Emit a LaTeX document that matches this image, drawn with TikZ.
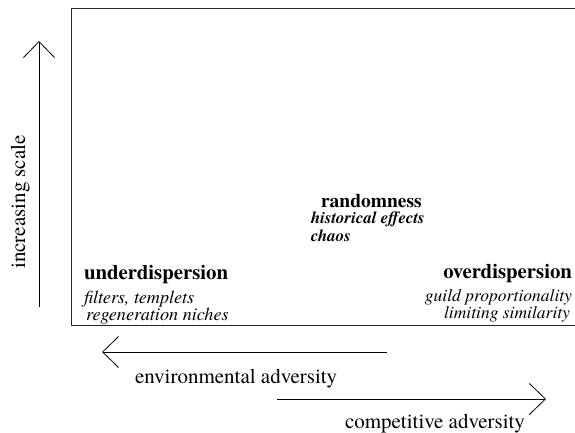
\documentclass[tikz,border=0pt]{standalone}
\usepackage{fontspec}
\setmainfont{texgyretermes}[
  Extension=.otf,
  UprightFont=*-regular,
  BoldFont=*-bold,
  ItalicFont=*-italic,
  BoldItalicFont=*-bolditalic]
\usetikzlibrary{arrows.meta}
\tikzset{
  frameline/.style={draw=black!85, line width=0.9pt},
  axisarrow/.style={draw=black, line width=0.8pt, -{Straight Barb[length=16pt,width=31pt,line width=0.8pt]}},
  lbl/.style={inner sep=0pt, outer sep=0pt, font=\fontsize{21}{25}\selectfont},
  headb/.style={inner sep=0pt, outer sep=0pt, font=\fontsize{20.8}{24}\selectfont\bfseries},
  subi/.style={inner sep=0pt, outer sep=0pt, font=\fontsize{17.5}{20}\selectfont\itshape},
  subil/.style={inner sep=0pt, outer sep=0pt, font=\fontsize{18.2}{20}\selectfont\itshape},
  midb/.style={inner sep=0pt, outer sep=0pt, font=\fontsize{19.5}{23}\selectfont\bfseries},
  midbi/.style={inner sep=0pt, outer sep=0pt, font=\fontsize{16.8}{20}\selectfont\bfseries\itshape},
}
\begin{document}
\begin{tikzpicture}[x=1pt,y=-1pt]
\useasboundingbox (0,0) rectangle (575,433);
% frame
\coordinate (ftr) at (576,8);
\coordinate (ftl) at (71,8);
\coordinate (fbl) at (71,325);
\coordinate (fbr) at (576,325);
\draw[frameline] (ftr) -- (ftl) -- (fbl) -- (fbr);

% vertical axis arrow
\coordinate (vbot) at (39,307);
\coordinate (vtop) at (39,41);
\draw[axisarrow] (vbot) -- (vtop);
\node[lbl, rotate=90, anchor=base] (scale) at (25,202) {increasing scale};

% environmental adversity arrow
\coordinate (estart) at (387,352);
\coordinate (etip) at (102,352);
\draw[axisarrow] (estart) -- (etip);
\node[lbl, anchor=base west] (env) at (135,383) {environmental adversity};

% competitive adversity arrow
\coordinate (cstart) at (277,399);
\coordinate (ctip) at (546,399);
\draw[axisarrow] (cstart) -- (ctip);
\node[lbl, anchor=base west] (comp) at (345,428) {competitive adversity};

% left labels
\node[headb, anchor=base west] (under) at (84,279) {underdispersion};
\node[subil, anchor=base west] (filt) at (84,303) {filters, templets};
\node[subil, anchor=base west] (regen) at (86,320) {regeneration niches};

% right labels
\node[headb, anchor=base east] (over) at (572,278) {overdispersion};
\node[subi, anchor=base east] (guild) at (572,301) {guild proportionality};
\node[subi, anchor=base east] (limit) at (570,318) {limiting similarity};

% middle labels
\node[midb, anchor=base west] (rand) at (321,207) {randomness};
\node[midbi, anchor=base west] (hist) at (311,223) {historical effects};
\node[midbi, anchor=base west] (chaos) at (311,241) {chaos};
\end{tikzpicture}
\end{document}
